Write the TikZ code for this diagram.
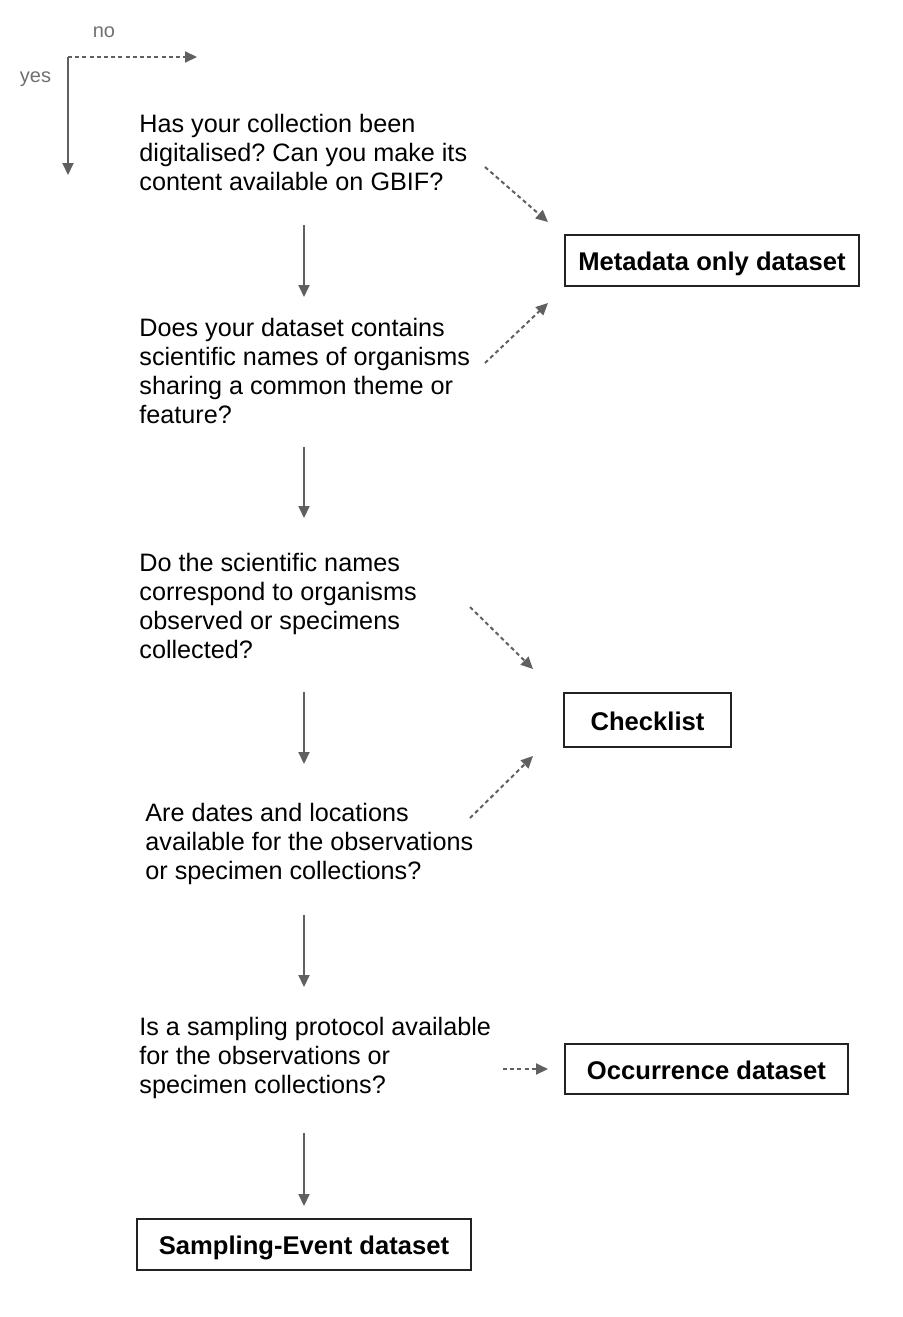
\documentclass[tikz,border=0pt]{standalone}
\usepackage{fontspec}
\setmainfont{Liberation Sans}
\usetikzlibrary{arrows.meta}
\definecolor{linegray}{HTML}{606060}
\definecolor{labelgray}{HTML}{707070}
\definecolor{boxline}{HTML}{222222}
\newcommand{\firstlinestrut}{\rule{0pt}{9pt}}
\frenchspacing
\begin{document}
\begin{tikzpicture}[x=0.5pt,y=-0.5pt,
  question/.style={anchor=north west,inner sep=0pt,align=left,
    font=\fontsize{12.6pt}{14.5pt}\selectfont\frenchspacing},
  result/.style={draw=boxline,line width=1pt,inner sep=0pt,
    text height=10pt,text depth=0pt,
    font=\fontsize{12.8pt}{14.5pt}\selectfont\bfseries},
  legendtext/.style={text=labelgray,inner sep=0pt,anchor=base,
    font=\fontsize{10pt}{12pt}\selectfont},
  yesarrow/.style={draw=linegray,line width=1pt,
    -{Triangle[length=6pt,width=5.5pt]},color=linegray},
  noarrow/.style={yesarrow,dash pattern=on 2pt off 1.6pt}]
\useasboundingbox (0,0) rectangle (902,1317);

% legend
\coordinate (corner) at (68,57);
\coordinate (noend) at (197,57);
\coordinate (yesend) at (68,175);
\node[legendtext] (nolab) at (104,38) {no};
\node[legendtext] (yeslab) at (35.5,82.5) {yes};
\draw[noarrow] (corner) -- (noend);
\draw[yesarrow] (corner) -- (yesend);

% questions
\node[question] (q1) at (139,114.3) {\firstlinestrut Has your collection been\\digitalised? Can you make its\\content available on GBIF?};
\node[question] (q2) at (139,318) {\firstlinestrut Does your dataset contains\\scientific names of organisms\\sharing a common theme or\\feature?};
\node[question] (q3) at (139,553) {\firstlinestrut Do the scientific names\\correspond to organisms\\observed or specimens\\collected?};
\node[question] (q4) at (145,803) {\firstlinestrut Are dates and locations\\available for the observations\\or specimen collections?};
\node[question] (q5) at (139,1017) {\firstlinestrut Is a sampling protocol available\\for the observations or\\specimen collections?};

% results
\node[result,minimum width=147pt,minimum height=25.5pt] (meta) at (712,260.5) {Metadata only dataset};
\node[result,minimum width=83.5pt,minimum height=27pt] (check) at (647.5,720) {Checklist};
\node[result,minimum width=141.5pt,minimum height=25pt] (occ) at (706.5,1069) {Occurrence dataset};
\node[result,minimum width=167pt,minimum height=25.5pt] (sev) at (304,1244.5) {Sampling-Event dataset};

% yes connectors (vertical)
\coordinate (y1a) at (304,225);  \coordinate (y1b) at (304,297);
\coordinate (y2a) at (304,447);  \coordinate (y2b) at (304,518);
\coordinate (y3a) at (304,692);  \coordinate (y3b) at (304,764);
\coordinate (y4a) at (304,915);  \coordinate (y4b) at (304,987);
\coordinate (y5a) at (304,1133); \coordinate (y5b) at (304,1206);
\draw[yesarrow] (y1a) -- (y1b);
\draw[yesarrow] (y2a) -- (y2b);
\draw[yesarrow] (y3a) -- (y3b);
\draw[yesarrow] (y4a) -- (y4b);
\draw[yesarrow] (y5a) -- (y5b);

% no connectors (dashed)
\coordinate (n1a) at (485,167);  \coordinate (n1b) at (548,222);
\coordinate (n2a) at (485,363);  \coordinate (n2b) at (548,303);
\coordinate (n3a) at (470,607);  \coordinate (n3b) at (533,669);
\coordinate (n4a) at (470,818);  \coordinate (n4b) at (533,756);
\coordinate (n5a) at (503,1069); \coordinate (n5b) at (548,1069);
\draw[noarrow] (n1a) -- (n1b);
\draw[noarrow] (n2a) -- (n2b);
\draw[noarrow] (n3a) -- (n3b);
\draw[noarrow] (n4a) -- (n4b);
\draw[noarrow] (n5a) -- (n5b);
\end{tikzpicture}
\end{document}
